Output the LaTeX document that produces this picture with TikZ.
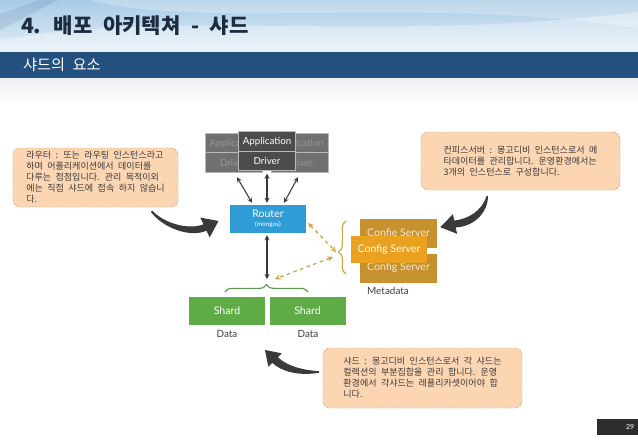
\documentclass[tikz,border=0pt]{standalone}
\usepackage{fontspec}
\setmainfont{Lato}
\newfontfamily\krfont{Noto Sans CJK KR}
\newfontfamily\krnote[WordSpace=2.2]{Noto Sans CJK KR}
\usetikzlibrary{arrows,calc,decorations.pathreplacing}

\definecolor{skytop}{HTML}{A9CBE6}
\definecolor{skybot}{HTML}{E2EDF7}
\definecolor{barblue}{HTML}{24507F}
\definecolor{titleink}{HTML}{1C2C3E}
\definecolor{notefill}{HTML}{FCD6B3}
\definecolor{noteline}{HTML}{C79262}
\definecolor{noteink}{HTML}{3A3A3A}
\definecolor{routerblue}{HTML}{2F9CD6}
\definecolor{shardgreen}{HTML}{5FAB45}
\definecolor{bracegreen}{HTML}{5E9B50}
\definecolor{cfgfront}{HTML}{E9A11F}
\definecolor{cfgback}{HTML}{C8912F}
\definecolor{cfgdash}{HTML}{D6A344}
\definecolor{appfront}{HTML}{4C4C4C}
\definecolor{appback}{HTML}{707070}
\definecolor{arrowink}{HTML}{3A3A3A}

\tikzset{
  note/.style={draw=noteline, fill=notefill, dash pattern=on 1.6pt off 1.2pt,
    rounded corners=6pt, align=left, text=noteink, inner sep=0pt,
    font=\krnote\fontsize{7.7}{9.4}\selectfont},
  box/.style={minimum width=2.28cm, minimum height=0.84cm, inner sep=0pt,
    text=white, align=center, font=\fontsize{9}{10}\selectfont},
  app/.style={minimum width=1.71cm, minimum height=1.17cm, inner sep=0pt,
    draw=gray!55, fill=appback, align=center, font=\fontsize{8.3}{17}\selectfont},
  cfg/.style={box, minimum width=2.31cm, minimum height=0.87cm, fill=cfgback,
    text=white!80!cfgback},
  tag/.style={text=black!75, font=\fontsize{8.5}{10}\selectfont},
  link/.style={<->, >=stealth, draw=arrowink, line width=0.9pt},
  meta/.style={<->, >=stealth, draw=cfgdash, line width=1.1pt, dashed},
  fatarrow/.style={fill=arrowink},
}

\begin{document}
\begin{tikzpicture}[x=0.03cm, y=-0.03cm]
\useasboundingbox (0,0) rectangle (638,442);
% header
\fill[white] (0,0) rectangle (638,442);
\shade[top color=skytop, bottom color=skybot] (0,0) rectangle (638,52);
\fill[white, opacity=0.35] (0,40) .. controls (180,8) and (380,44) .. (638,12) -- (638,52) -- (0,52) -- cycle;
\fill[white, opacity=0.25] (90,0) .. controls (200,30) and (420,-5) .. (638,28) -- (638,0) -- cycle;
\fill[barblue, opacity=0.12] (0,14) -- (40,0) -- (58,0) -- (0,30) -- cycle;
\shade[top color=barblue!8, bottom color=white] (0,78) rectangle (638,104);
\fill[barblue] (0,52) rectangle (638,78);
\node[anchor=west, text=titleink, font=\krfont\bfseries\fontsize{18}{20}\selectfont] (title) at (17,26) {4. 배포 아키텍쳐 - 샤드};
\node[anchor=west, text=white, font=\krfont\fontsize{13}{15}\selectfont] (subtitle) at (19,65) {샤드의 요소};

% callouts
\node[note, minimum width=4.95cm, minimum height=1.77cm] (routernote) at (95.5,177.5)
  {라우터 : 또는 라우팅 인스턴스라고\\하며 어플리케이션에서 데이터를\\다루는 접점입니다. 관리 목적이외\\에는 직접 샤드에 접속 하지 않습니\\다.};
\node[note, minimum width=5.97cm, minimum height=1.74cm] (confignote) at (520.5,161)
  {컨피스서버 : 몽고디비 인스턴스로서 메\\타데이터를 관리합니다. 운영환경에서는\\3개의 인스턴스로 구성합니다.};
\node[note, minimum width=5.97cm, minimum height=1.8cm] (shardnote) at (422.5,378)
  {샤드 : 몽고디비 인스턴스로서 각 샤드는\\컬렉션의 부분집합을 관리 합니다. 운영\\환경에서 각샤드는 레플리카셋이어야 합\\니다.};

% fat arrows from the callouts
\fill[fatarrow] (152,210.5) .. controls (165,224) and (189,230) .. (203.5,224.3) -- (200.3,217.6) -- (218.5,221)
  -- (209.7,237.4) -- (206.5,230.7) .. controls (190,238) and (163,228) .. (151,212) -- cycle;
\fill[fatarrow] (486.5,196) .. controls (482,211) and (468,219) .. (454.3,220.6) -- (452.9,214.2) -- (440.3,227.2)
  -- (457.1,233.8) -- (455.7,227.4) .. controls (472,227) and (488,214) .. (488,196) -- cycle;
\fill[fatarrow] (265,350) -- (281.7,353.3) -- (277.8,357.2) .. controls (287,366) and (302,370) .. (319,371.2)
  -- (319,372.8) .. controls (299,376) and (282,372) .. (272.2,362.8) -- (268.3,366.7) -- cycle;

% applications
\node[app, text=white!25!appback] (appl) at (233.5,152.5) {Application\\Driver};
\draw[gray!55] (appl.west) -- (appl.east);
\node[app, text=white!25!appback] (appr) at (299.5,152.5) {Application\\Driver};
\draw[gray!55] (appr.west) -- (appr.east);
\node[app, fill=appfront, text=white] (appc) at (267,151) {Application\\Driver};
\draw[gray!55] (appc.west) -- (appc.east);

% router and shards
\node[box, fill=routerblue] (router) at (268,219) {Router\\[-2pt]{\fontsize{5.5}{6}\selectfont (mongos)}};
\node[box, fill=shardgreen] (shardl) at (227,311) {Shard};
\node[box, fill=shardgreen] (shardr) at (307.5,311) {Shard};
\node[tag] (datal) at (227,334) {Data};
\node[tag] (datar) at (308,334) {Data};

% config servers
\node[cfg] (cfgtop) at (398.5,233) {Confie Server};
\node[cfg] (cfgbot) at (398.5,268) {Config Server};
\node[box, fill=cfgfront, minimum height=0.81cm] (cfgmain) at (389,249.5) {Config Server};
\node[tag] (metalbl) at (388,291) {Metadata};

% braces
\draw[decorate, decoration={brace, amplitude=0.22cm}, bracegreen, line width=1pt] (225,292) -- (308,292);
\draw[decorate, decoration={brace, amplitude=0.22cm, aspect=0.42}, cfgdash, line width=1pt] (346,274) -- (346,221);
\coordinate (datatip) at (266,282);
\coordinate (cfgtip) at (336,252);

% connectors
\draw[link] ($(appl.south)+(3.5,5)$) -- ($(router.north)+(-16,-2)$);
\draw[link] ($(appc.south)+(0,3)$) -- ($(router.north)+(-1,-2)$);
\draw[link] ($(appr.south)+(-1.5,5)$) -- ($(router.north)+(16,-2)$);
\draw[link] ($(router.south)+(-1,2)$) -- ($(datatip)+(1,-3)$);
\draw[meta] ($(router.east)+(2,4)$) -- (cfgtip);
\draw[meta] ($(cfgtip)+(-3,5)$) -- ($(datatip)+(9,-3)$);

% page number
\node[fill=black!82, text=white, text width=1.0cm, align=right, inner xsep=0.115cm,
  minimum height=0.48cm, inner ysep=0pt, font=\fontsize{6}{7}\selectfont] (pagenum) at (617.5,427) {29};
\end{tikzpicture}
\end{document}
